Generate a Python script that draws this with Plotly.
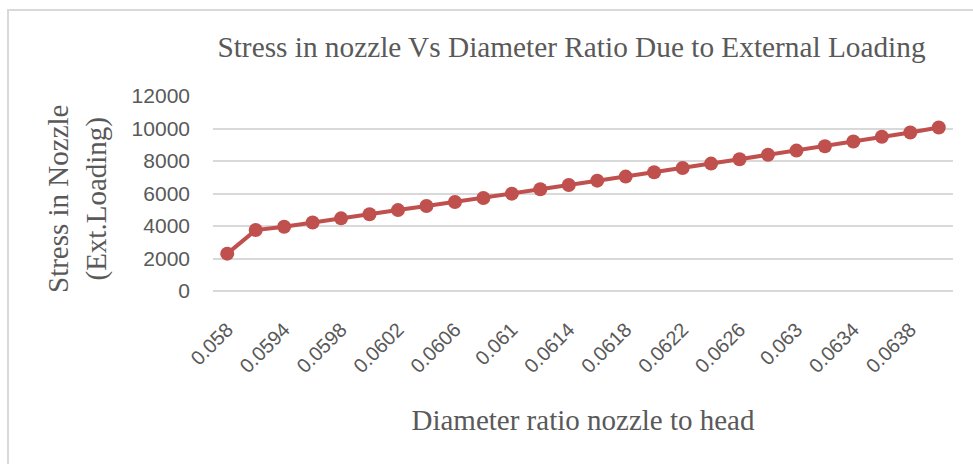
import plotly.graph_objs as go

# data
diameter_ratio = ["0.058", "0.0592", "0.0594", "0.0596", "0.0598", "0.06", "0.0602",
                  "0.0604", "0.0606", "0.0608", "0.061", "0.0612", "0.0614", "0.0616",
                  "0.0618", "0.062", "0.0622", "0.0624", "0.0626", "0.0628", "0.063",
                  "0.0632", "0.0634", "0.0636", "0.0638", "0.064"]
stress = [2300, 3750, 3950, 4220, 4470, 4720, 4980, 5230, 5480, 5720, 5990, 6260,
          6520, 6790, 7040, 7310, 7570, 7840, 8110, 8380, 8640, 8910, 9200, 9490,
          9750, 10060]
shown_ticks = diameter_ratio[::2]
y_ticks = [0, 2000, 4000, 6000, 8000, 10000, 12000]
y_ticktext = [str(v) for v in y_ticks]

W, H = 973, 464
L, R, T, B = 213, 20, 96, 173
pw, ph = W - L - R, H - T - B

serif = "Liberation Serif, Times New Roman, serif"
sans = "Liberation Sans, Arial, sans-serif"

fig = go.Figure()
fig.add_trace(go.Scatter(
    x=diameter_ratio, y=stress,
    mode="lines+markers",
    line=dict(color="#c0504d", width=4),
    marker=dict(size=14, color="#c0504d"),
    showlegend=False,
))

# outer chart frame (right/bottom edges run off the page)
fig.add_shape(type="rect", xref="paper", yref="paper",
              x0=(8 - L) / pw, x1=(W + 20 - L) / pw,
              y0=(H - B - (H + 20)) / ph, y1=(H - B - 10) / ph,
              line=dict(color="#d9d9d9", width=2), layer="below")

fig.add_annotation(
    text="Stress in Nozzle<br>(Ext.Loading)",
    xref="paper", yref="paper",
    x=(77 - L) / pw, y=(H - B - 199) / ph,
    xanchor="center", yanchor="middle",
    textangle=-90, showarrow=False,
    font=dict(family=serif, size=29, color="#595959"),
)

fig.update_layout(
    width=W, height=H,
    margin=dict(l=L, r=R, t=T, b=B),
    paper_bgcolor="white", plot_bgcolor="white",
    title=dict(
        text="Stress in nozzle Vs Diameter Ratio Due to External Loading",
        x=571.5 / W, xanchor="center", y=1 - 47 / H, yanchor="middle",
        font=dict(family=serif, size=29.3, color="#595959"),
    ),
    xaxis=dict(
        type="category", range=[-0.5, len(diameter_ratio) - 0.5],
        tickmode="array", tickvals=shown_ticks, ticktext=shown_ticks,
        tickangle=-45, ticklabelstandoff=22,
        tickfont=dict(family=sans, size=20, color="#595959"),
        showgrid=False, showline=False, zeroline=False,
        title=dict(text="Diameter ratio nozzle to head", standoff=33,
                   font=dict(family=serif, size=29, color="#595959")),
    ),
    yaxis=dict(
        range=[0, 12000], tickmode="array", tickvals=y_ticks, ticktext=y_ticktext,
        tickfont=dict(family=sans, size=21, color="#595959"),
        ticklabelstandoff=22,
        gridcolor="#d9d9d9", gridwidth=1.5,
        zeroline=True, zerolinecolor="#d9d9d9", zerolinewidth=1.5,
        showline=False,
    ),
)

# drop the page's default body margin so the figure sits at the window origin
fig.write_html("out.html", config={"displayModeBar": False},
               post_script="document.body.style.margin='0';")
